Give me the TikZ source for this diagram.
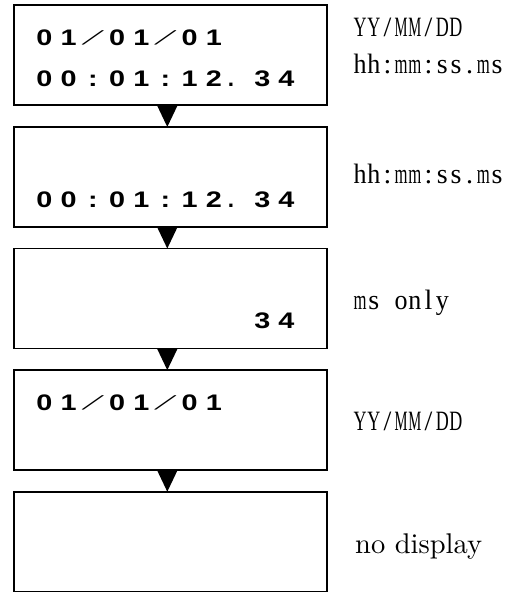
\documentclass[tikz,border=0pt]{standalone}
\usepackage{fontspec}
\usepackage{graphicx}
\newfontfamily\dispfont{Liberation Sans}
\newfontfamily\minchofont{Liberation Serif}
\newfontfamily\cmtenfont{lmroman10-regular}[Extension=.otf]
\newsavebox\mcbox
\newcommand\mcell[1]{\sbox\mcbox{#1}\ifdim\wd\mcbox>13pt\relax\makebox[13.7pt]{\resizebox{13pt}{\height}{\usebox\mcbox}}\else\makebox[13.7pt]{\usebox\mcbox}\fi}
\ExplSyntaxOn
\NewDocumentCommand\monorow{m}{\tl_map_inline:nn{#1}{\mcell{##1}}}
\ExplSyntaxOff
\newcommand\dd[1]{\makebox[24.2pt][c]{\scalebox{1.28}[1]{#1}}}
\newcommand\dslash{\makebox[24.2pt][c]{\raisebox{3.6pt}{\scalebox{2.6}[0.66]{\cmtenfont\fontsize{22}{22}\selectfont/}}}}
\newcommand\dperiod{\makebox[24.2pt][l]{\hspace{2pt}.}}
\begin{document}
\begin{tikzpicture}[x=1pt,y=-1pt,
  dispbox/.style={draw, line width=1.8pt, minimum width=313.3pt, minimum height=100pt,
    inner sep=0pt, outer sep=0pt, anchor=north west},
  disptext/.style={inner sep=0pt, anchor=base west, font=\dispfont\bfseries\fontsize{22.5}{22.5}\selectfont},
  lbl/.style={inner sep=0pt, anchor=base west, font=\minchofont\fontsize{28}{28}\selectfont},
  cmlbl/.style={inner sep=0pt, anchor=base west, font=\cmtenfont\fontsize{28.5}{30}\selectfont},
  tri/.style={fill=black}]
\useasboundingbox (0,0) rectangle (510,592);
% boxes
\node[dispbox] (b1) at (13.7,5.3) {};
\node[dispbox] (b2) at (13.7,126.9) {};
\node[dispbox] (b3) at (13.7,248.5) {};
\node[dispbox] (b4) at (13.7,370.1) {};
\node[dispbox] (b5) at (13.7,491.7) {};
% triangles
\fill[tri] ([xshift=-13.35pt]b1.south) -- ([xshift=7.25pt]b1.south) -- ([xshift=-3.05pt]b2.north) -- cycle;
\fill[tri] ([xshift=-13.35pt]b2.south) -- ([xshift=7.25pt]b2.south) -- ([xshift=-3.05pt]b3.north) -- cycle;
\fill[tri] ([xshift=-13.35pt]b3.south) -- ([xshift=7.25pt]b3.south) -- ([xshift=-3.05pt]b4.north) -- cycle;
\fill[tri] ([xshift=-13.35pt]b4.south) -- ([xshift=7.25pt]b4.south) -- ([xshift=-3.05pt]b5.north) -- cycle;
% display texts
\node[disptext] (d1a) at (32.2,45) {\dd0\dd1\dslash\dd0\dd1\dslash\dd0\dd1};
\node[disptext] (d1b) at (32.2,86) {\dd0\dd0\dd:\dd0\dd1\dd:\dd1\dd2\dperiod\dd3\dd4};
\node[disptext] (d2) at (32.2,207.6) {\dd0\dd0\dd:\dd0\dd1\dd:\dd1\dd2\dperiod\dd3\dd4};
\node[disptext] (d3) at (250,328.5) {\dd3\dd4};
\node[disptext] (d4) at (32.2,410.5) {\dd0\dd1\dslash\dd0\dd1\dslash\dd0\dd1};
% labels
\node[lbl] (l1a) at (353,36) {\monorow{YY/MM/DD}};
\node[lbl] (l1b) at (353,73) {\monorow{hh:mm:ss.ms}};
\node[lbl] (l2) at (353,183) {\monorow{hh:mm:ss.ms}};
\node[lbl] (l3) at (353,309) {\monorow{ms~only}};
\node[lbl] (l4) at (353,430) {\monorow{YY/MM/DD}};
\node[cmlbl] (l5) at (355,553.5) {no display};
\end{tikzpicture}
\end{document}
